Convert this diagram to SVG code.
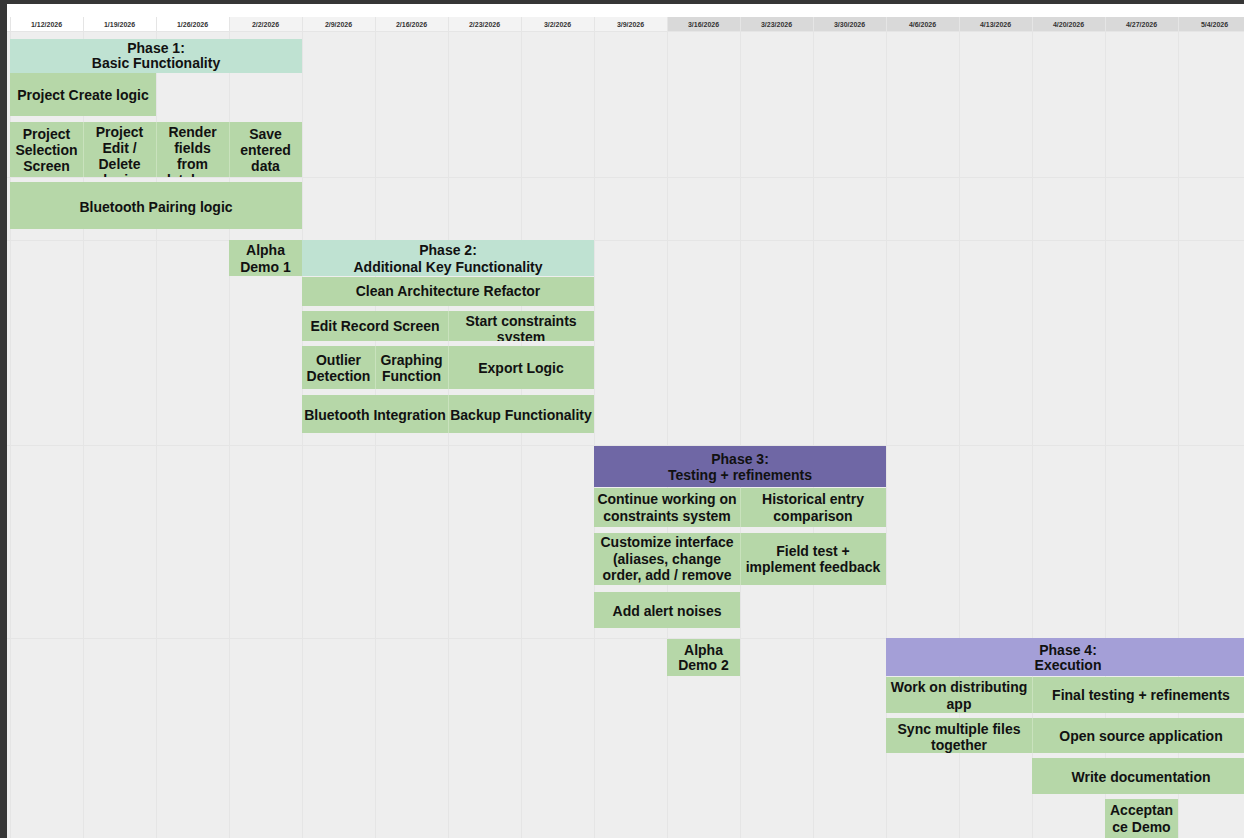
<svg xmlns="http://www.w3.org/2000/svg" width="1244" height="838" viewBox="0 0 1244 838">
<style>
.t{font-family:"Liberation Sans",Arial,sans-serif;font-weight:bold;font-size:14px;fill:#111;text-anchor:middle}
.d{font-family:"Liberation Sans",Arial,sans-serif;font-weight:bold;font-size:7px;fill:#333;text-anchor:middle}
.g{fill:#b6d7a8}
.m{fill:#bfe2d2}
.p3{fill:#6f67a5}
.p4{fill:#a49fd7}
.gl{stroke:#e5e5e5;stroke-width:1}
.sep{stroke:#c9e2bd;stroke-width:1}
</style>
<defs>
<clipPath id="c1"><rect x="83" y="122" width="73" height="55"/></clipPath>
<clipPath id="c2"><rect x="156" y="122" width="73" height="55"/></clipPath>
<clipPath id="c3"><rect x="448" y="311" width="146" height="30"/></clipPath>
<clipPath id="c4"><rect x="594" y="533" width="146" height="52"/></clipPath>
</defs>
<rect x="0" y="0" width="1244" height="838" fill="#363636"/>
<rect x="7" y="4" width="1237" height="834" fill="#eeeeee"/>
<rect x="7" y="4" width="1237" height="13" fill="#ffffff"/>
<g id="header">
<rect x="7" y="17" width="222" height="14" fill="#ffffff"/>
<rect x="229" y="17" width="438" height="14" fill="#f3f3f3"/>
<rect x="667" y="17" width="577" height="14" fill="#d9d9d9"/>
<line class="gl" x1="7" y1="31.5" x2="1244" y2="31.5"/>
<text class="d" x="46.5" y="26.5">1/12/2026</text>
<text class="d" x="119.5" y="26.5">1/19/2026</text>
<text class="d" x="192.5" y="26.5">1/26/2026</text>
<text class="d" x="265.5" y="26.5">2/2/2026</text>
<text class="d" x="338.5" y="26.5">2/9/2026</text>
<text class="d" x="411.5" y="26.5">2/16/2026</text>
<text class="d" x="484.5" y="26.5">2/23/2026</text>
<text class="d" x="557.5" y="26.5">3/2/2026</text>
<text class="d" x="630.5" y="26.5">3/9/2026</text>
<text class="d" x="703.5" y="26.5">3/16/2026</text>
<text class="d" x="776.5" y="26.5">3/23/2026</text>
<text class="d" x="849.5" y="26.5">3/30/2026</text>
<text class="d" x="922.5" y="26.5">4/6/2026</text>
<text class="d" x="995.5" y="26.5">4/13/2026</text>
<text class="d" x="1068.5" y="26.5">4/20/2026</text>
<text class="d" x="1141.5" y="26.5">4/27/2026</text>
<text class="d" x="1214.5" y="26.5">5/4/2026</text>
</g>
<g id="grid">
<line class="gl" x1="10.5" y1="17" x2="10.5" y2="838"/>
<line class="gl" x1="83.5" y1="17" x2="83.5" y2="838"/>
<line class="gl" x1="156.5" y1="17" x2="156.5" y2="838"/>
<line class="gl" x1="229.5" y1="17" x2="229.5" y2="838"/>
<line class="gl" x1="302.5" y1="17" x2="302.5" y2="838"/>
<line class="gl" x1="375.5" y1="17" x2="375.5" y2="838"/>
<line class="gl" x1="448.5" y1="17" x2="448.5" y2="838"/>
<line class="gl" x1="521.5" y1="17" x2="521.5" y2="838"/>
<line class="gl" x1="594.5" y1="17" x2="594.5" y2="838"/>
<line class="gl" x1="667.5" y1="17" x2="667.5" y2="838"/>
<line class="gl" x1="740.5" y1="17" x2="740.5" y2="838"/>
<line class="gl" x1="813.5" y1="17" x2="813.5" y2="838"/>
<line class="gl" x1="886.5" y1="17" x2="886.5" y2="838"/>
<line class="gl" x1="959.5" y1="17" x2="959.5" y2="838"/>
<line class="gl" x1="1032.5" y1="17" x2="1032.5" y2="838"/>
<line class="gl" x1="1105.5" y1="17" x2="1105.5" y2="838"/>
<line class="gl" x1="1178.5" y1="17" x2="1178.5" y2="838"/>
<line class="gl" x1="7" y1="177.5" x2="1244" y2="177.5"/>
<line class="gl" x1="7" y1="240.5" x2="1244" y2="240.5"/>
<line class="gl" x1="7" y1="445.5" x2="1244" y2="445.5"/>
<line class="gl" x1="7" y1="638.5" x2="1244" y2="638.5"/>
</g>
<g id="connectors"/>
<g id="phase1"><rect class="m" x="10" y="39" width="292" height="34"/><text class="t" x="156" y="53">Phase 1:</text><text class="t" x="156" y="68">Basic Functionality</text></g>
<g id="project-create"><rect class="g" x="10" y="73" width="146" height="43"/><text class="t" x="83" y="100">Project Create logic</text></g>
<g id="project-selection"><rect class="g" x="10" y="122" width="73" height="55"/><text class="t" x="46.5" y="139">Project</text><text class="t" x="46.5" y="155">Selection</text><text class="t" x="46.5" y="171">Screen</text></g>
<g id="project-edit"><rect class="g" x="83" y="122" width="73" height="55"/><g clip-path="url(#c1)"><text class="t" x="119.5" y="137">Project</text><text class="t" x="119.5" y="153">Edit /</text><text class="t" x="119.5" y="169">Delete</text><text class="t" x="119.5" y="185">logic</text></g></g>
<g id="render-fields"><rect class="g" x="156" y="122" width="73" height="55"/><g clip-path="url(#c2)"><text class="t" x="192.5" y="137">Render</text><text class="t" x="192.5" y="153">fields</text><text class="t" x="192.5" y="169">from</text><text class="t" x="192.5" y="185">database</text></g></g>
<g id="save-data"><rect class="g" x="229" y="122" width="73" height="55"/><text class="t" x="265.5" y="139">Save</text><text class="t" x="265.5" y="155">entered</text><text class="t" x="265.5" y="171">data</text></g>
<line class="sep" x1="83.5" y1="122" x2="83.5" y2="177"/><line class="sep" x1="156.5" y1="122" x2="156.5" y2="177"/><line class="sep" x1="229.5" y1="122" x2="229.5" y2="177"/>
<g id="bt-pairing"><rect class="g" x="10" y="182" width="292" height="47"/><text class="t" x="156" y="212">Bluetooth Pairing logic</text></g>
<g id="alpha-demo-1"><rect class="g" x="229" y="240" width="73" height="36"/><text class="t" x="265.5" y="255">Alpha</text><text class="t" x="265.5" y="272">Demo 1</text></g>
<g id="phase2"><rect class="m" x="302" y="240" width="292" height="36"/><text class="t" x="448" y="255">Phase 2:</text><text class="t" x="448" y="272">Additional Key Functionality</text></g>
<g id="clean-arch"><rect class="g" x="302" y="277" width="292" height="29"/><text class="t" x="448" y="296">Clean Architecture Refactor</text></g>
<g id="edit-record"><rect class="g" x="302" y="311" width="146" height="30"/><text class="t" x="375" y="331">Edit Record Screen</text></g>
<g id="start-constraints"><rect class="g" x="448" y="311" width="146" height="30"/><g clip-path="url(#c3)"><text class="t" x="521" y="326">Start constraints</text><text class="t" x="521" y="342">system</text></g></g>
<g id="outlier"><rect class="g" x="302" y="346" width="73" height="43"/><text class="t" x="338.5" y="365">Outlier</text><text class="t" x="338.5" y="381">Detection</text></g>
<g id="graphing"><rect class="g" x="375" y="346" width="73" height="43"/><text class="t" x="411.5" y="365">Graphing</text><text class="t" x="411.5" y="381">Function</text></g>
<g id="export"><rect class="g" x="448" y="346" width="146" height="43"/><text class="t" x="521" y="373">Export Logic</text></g>
<g id="bt-integration"><rect class="g" x="302" y="395" width="146" height="38"/><text class="t" x="375" y="420">Bluetooth Integration</text></g>
<g id="backup"><rect class="g" x="448" y="395" width="146" height="38"/><text class="t" x="521" y="420">Backup Functionality</text></g>
<line class="sep" x1="448.5" y1="311" x2="448.5" y2="341"/><line class="sep" x1="375.5" y1="346" x2="375.5" y2="389"/><line class="sep" x1="448.5" y1="346" x2="448.5" y2="389"/><line class="sep" x1="448.5" y1="395" x2="448.5" y2="433"/>
<g id="phase3"><rect class="p3" x="594" y="446" width="292" height="41"/><text class="t" x="740" y="464">Phase 3:</text><text class="t" x="740" y="480">Testing + refinements</text></g>
<g id="continue-constraints"><rect class="g" x="594" y="488" width="146" height="39"/><text class="t" x="667" y="504">Continue working on</text><text class="t" x="667" y="521">constraints system</text></g>
<g id="historical"><rect class="g" x="740" y="488" width="146" height="39"/><text class="t" x="813" y="504">Historical entry</text><text class="t" x="813" y="521">comparison</text></g>
<g id="customize"><rect class="g" x="594" y="533" width="146" height="52"/><g clip-path="url(#c4)"><text class="t" x="667" y="547">Customize interface</text><text class="t" x="667" y="564">(aliases, change</text><text class="t" x="667" y="580">order, add / remove</text><text class="t" x="667" y="596">fields)</text></g></g>
<g id="field-test"><rect class="g" x="740" y="533" width="146" height="52"/><text class="t" x="813" y="556">Field test +</text><text class="t" x="813" y="572">implement feedback</text></g>
<g id="alert-noises"><rect class="g" x="594" y="592" width="146" height="36"/><text class="t" x="667" y="616">Add alert noises</text></g>
<line class="sep" x1="740.5" y1="488" x2="740.5" y2="527"/><line class="sep" x1="740.5" y1="533" x2="740.5" y2="585"/>
<g id="alpha-demo-2"><rect class="g" x="667" y="639" width="73" height="37"/><text class="t" x="703.5" y="655">Alpha</text><text class="t" x="703.5" y="670">Demo 2</text></g>
<g id="phase4"><rect class="p4" x="886" y="638" width="358" height="38"/><text class="t" x="1068" y="655">Phase 4:</text><text class="t" x="1068" y="670">Execution</text></g>
<g id="distributing"><rect class="g" x="886" y="677" width="146" height="36"/><text class="t" x="959" y="692">Work on distributing</text><text class="t" x="959" y="709">app</text></g>
<g id="final-testing"><rect class="g" x="1032" y="677" width="212" height="36"/><text class="t" x="1141" y="700">Final testing + refinements</text></g>
<g id="sync-files"><rect class="g" x="886" y="718" width="146" height="35"/><text class="t" x="959" y="734">Sync multiple files</text><text class="t" x="959" y="750">together</text></g>
<g id="open-source"><rect class="g" x="1032" y="718" width="212" height="35"/><text class="t" x="1141" y="741">Open source application</text></g>
<g id="write-docs"><rect class="g" x="1032" y="758" width="212" height="36"/><text class="t" x="1141" y="782">Write documentation</text></g>
<g id="acceptance-demo"><rect class="g" x="1105" y="799" width="73" height="39"/><text class="t" x="1141.5" y="815">Acceptan</text><text class="t" x="1141.5" y="832">ce Demo</text></g>
<line class="sep" x1="1032.5" y1="677" x2="1032.5" y2="713"/><line class="sep" x1="1032.5" y1="718" x2="1032.5" y2="753"/>
</svg>
